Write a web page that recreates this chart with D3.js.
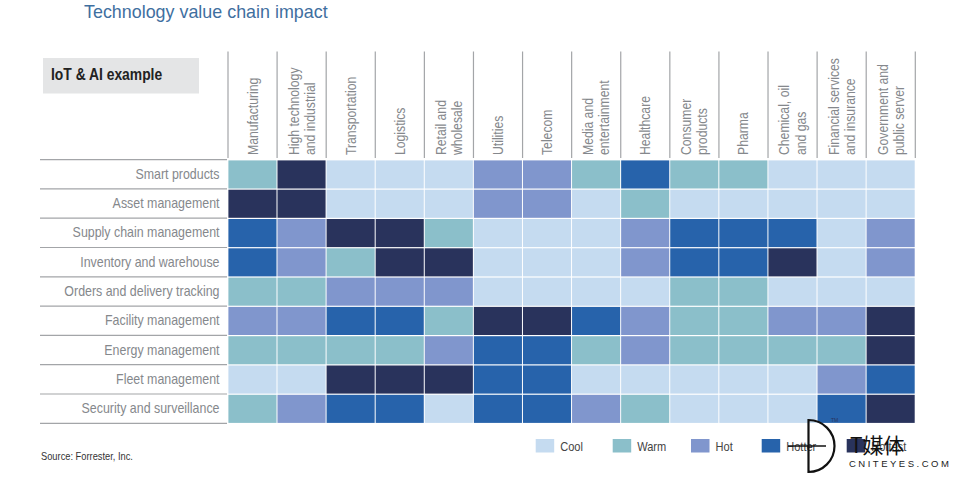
<!DOCTYPE html>
<html>
<head>
<meta charset="utf-8">
<script src="https://cdn.jsdelivr.net/npm/d3@7"></script>
<style>
body{margin:0;background:#fff;}
svg{display:block;}
text{font-family:"Liberation Sans",sans-serif;}
</style>
</head>
<body>
<svg></svg>
<script>
var industries=["Manufacturing","High technology|and industrial","Transportation","Logistics","Retail and|wholesale","Utilities","Telecom","Media and|entertainment","Healthcare","Consumer|products","Pharma","Chemical, oil|and gas","Financial services|and insurance","Government and|public server"];
var useCases=["Smart products","Asset management","Supply chain management","Inventory and warehouse","Orders and delivery tracking","Facility management","Energy management","Fleet management","Security and surveillance"];
var levels=["Cool","Warm","Hot","Hotter","Hottest"];
var levelColors=["#c5dbf0","#8bbfca","#8096cd","#2763ab","#29335c"];

// one row per use case, 0 = cool ... 4 = hottest
var smartProducts=[1,4,0,0,0,2,2,1,3,1,1,0,0,0];
var assetMgmt=[4,4,0,0,0,2,2,0,1,0,0,0,0,0];
var supplyChain=[3,2,4,4,1,0,0,0,2,3,3,3,0,2];
var inventory=[3,2,1,4,4,0,0,0,2,3,3,4,0,2];
var orders=[1,1,2,2,2,0,0,0,0,1,1,0,0,0];
var facility=[2,2,3,3,1,4,4,3,2,1,1,2,2,4];
var energy=[1,1,1,1,2,3,3,1,2,1,1,1,1,4];
var fleet=[0,0,4,4,4,3,3,0,0,0,0,0,2,3];
var security=[1,2,3,3,0,3,3,2,1,0,0,0,3,4];
var rows=[smartProducts,assetMgmt,supplyChain,inventory,orders,facility,energy,fleet,security];

var svgwidth=960;
var svgheight=484;

var svg=d3.select("svg")
    .attr("width",svgwidth)
    .attr("height",svgheight);

var x=d3.scaleBand().domain(industries).range([228,915.3]);
var y=d3.scaleBand().domain(useCases).range([159.6,423.3]);
var color=d3.scaleOrdinal().domain(d3.range(levels.length)).range(levelColors);

// no condensed face installed, so squeeze the glyphs to the measured width
function narrow(sel,k){
    sel.each(function(){
        var w=this.getComputedTextLength();
        d3.select(this)
            .attr("textLength",w*k)
            .attr("lengthAdjust","spacingAndGlyphs");
    });
}

svg.append("text")
    .attr("x",84)
    .attr("y",18)
    .attr("fill","#3f6f9f")
    .style("font-size","17.9px")
    .text("Technology value chain impact");

svg.append("rect")
    .attr("x",43).attr("y",58)
    .attr("width",156).attr("height",35.5)
    .attr("fill","#e4e5e6");
svg.append("text")
    .attr("x",51).attr("y",80)
    .attr("fill","#222")
    .style("font-size","16.5px")
    .style("font-weight","bold")
    .text("IoT & AI example")
    .call(narrow,0.84);

// cells
rows.forEach(function(row,r){
    svg.selectAll("rect.r"+r)
        .data(row)
        .enter()
        .append("rect")
        .attr("class","r"+r)
        .attr("x",function(d,i){return x(industries[i])+0.4;})
        .attr("y",y(useCases[r])+0.8)
        .attr("width",x.bandwidth()-1)
        .attr("height",y.bandwidth()-1.2)
        .attr("fill",function(d){return color(d);});
});

// column rules and headers
var gray="#a3a5a8";
svg.selectAll("line.col")
    .data(d3.range(industries.length+1))
    .enter()
    .append("line")
    .attr("class","col")
    .attr("x1",function(i){return 228+i*x.bandwidth();})
    .attr("x2",function(i){return 228+i*x.bandwidth();})
    .attr("y1",51.5)
    .attr("y2",158)
    .attr("stroke",gray)
    .attr("stroke-width",1.2);

var header=svg.selectAll("g.header")
    .data(industries)
    .enter()
    .append("g")
    .attr("class","header")
    .attr("transform",function(d){
        return "translate("+(x(d)+x.bandwidth()/2)+",155) rotate(-90)";
    });
header.selectAll("text")
    .data(function(d){
        var parts=d.split("|");
        return parts.map(function(t,i){return {t:t,dy:(i-(parts.length-1)/2)*16.2+5};});
    })
    .enter()
    .append("text")
    .attr("y",function(d){return d.dy;})
    .attr("fill","#85888c")
    .style("font-size","14.2px")
    .text(function(d){return d.t;})
    .call(narrow,0.86);

// row rules and labels
svg.selectAll("line.row")
    .data(d3.range(useCases.length+1))
    .enter()
    .append("line")
    .attr("class","row")
    .attr("x1",40)
    .attr("x2",227)
    .attr("y1",function(i){return 159.6+i*y.bandwidth();})
    .attr("y2",function(i){return 159.6+i*y.bandwidth();})
    .attr("stroke",gray)
    .attr("stroke-width",1.2);

svg.selectAll("text.rowlabel")
    .data(useCases)
    .enter()
    .append("text")
    .attr("class","rowlabel")
    .attr("x",219.5)
    .attr("y",function(d){return y(d)+y.bandwidth()/2+4.5;})
    .attr("text-anchor","end")
    .attr("fill","#85888c")
    .style("font-size","14.6px")
    .text(function(d){return d;})
    .call(narrow,0.85);

svg.append("text")
    .attr("x",41).attr("y",460)
    .attr("fill","#333")
    .style("font-size","11px")
    .text("Source: Forrester, Inc.")
    .call(narrow,0.845);

svg.append("text")
    .attr("x",831).attr("y",422)
    .attr("fill","#29335c")
    .style("font-size","5px")
    .text("TM");

// legend
var legendX=d3.scaleOrdinal().domain(levels).range([535.7,612.7,691,761.7,846.7]);
var legend=svg.selectAll("g.legend")
    .data(levels)
    .enter()
    .append("g")
    .attr("class","legend")
    .attr("transform",function(d){return "translate("+legendX(d)+",439)";});
legend.append("rect")
    .attr("width",18.5)
    .attr("height",13.5)
    .attr("fill",function(d,i){return levelColors[i];});
legend.append("text")
    .attr("x",24.5)
    .attr("y",12)
    .attr("fill","#444")
    .style("font-size","13px")
    .text(function(d){return d;})
    .call(narrow,0.85);

// site mark over the legend
var mark=svg.append("g");
mark.append("path")
    .attr("d","M808.5,420V472A26,26 0 0 0 808.5,420Z")
    .attr("fill","none")
    .attr("stroke","#111")
    .attr("stroke-width",2.2);
mark.append("line")
    .attr("x1",788).attr("x2",826)
    .attr("y1",446).attr("y2",446)
    .attr("stroke","#111")
    .attr("stroke-width",1.6);
mark.append("text")
    .attr("x",850).attr("y",453)
    .attr("fill","#111")
    .style("font-family","'Noto Sans CJK SC',sans-serif")
    .style("font-size","21px")
    .text("T媒体");
mark.append("text")
    .attr("x",849).attr("y",467)
    .attr("fill","#222")
    .style("font-size","9.5px")
    .style("letter-spacing","2.5px")
    .text("CNITEYES.COM");
</script>
</body>
</html>
